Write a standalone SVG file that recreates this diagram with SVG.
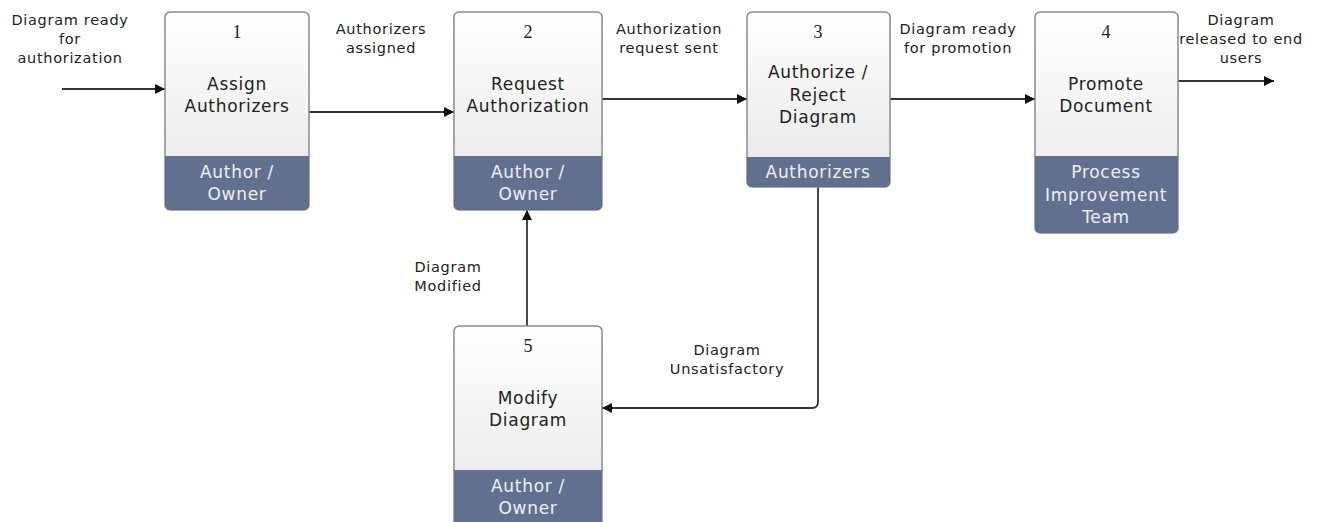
<svg xmlns="http://www.w3.org/2000/svg" width="1320" height="522" viewBox="0 0 1320 522">
<defs>
<linearGradient id="g" x1="0" y1="0" x2="0" y2="1">
<stop offset="0" stop-color="#ffffff"/>
<stop offset="1" stop-color="#e6e6e6"/>
</linearGradient>
<marker id="arr" viewBox="0 0 10 10" refX="10" refY="5" markerWidth="10" markerHeight="10" markerUnits="userSpaceOnUse" orient="auto">
<path d="M0,0 L10,5 L0,10 z" fill="#111"/>
</marker>
<clipPath id="c1"><rect x="165" y="12" width="144" height="198" rx="5"/></clipPath>
<clipPath id="c2"><rect x="454" y="12" width="148" height="198" rx="5"/></clipPath>
<clipPath id="c3"><rect x="747" y="12" width="143" height="175" rx="5"/></clipPath>
<clipPath id="c4"><rect x="1035" y="12" width="143" height="221" rx="5"/></clipPath>
<clipPath id="c5"><rect x="454" y="326" width="148" height="205" rx="5"/></clipPath>
</defs>
<style>
.box{fill:url(#g);stroke:#8a8a8a;stroke-width:1.5}
.band{fill:#62708f}
.num{font-family:"Liberation Serif",serif;font-size:18px;fill:#222;text-anchor:middle}
.t{font-family:"DejaVu Sans",Verdana,sans-serif;font-size:17px;letter-spacing:0.7px;fill:#222;text-anchor:middle}
.b{font-family:"DejaVu Sans",Verdana,sans-serif;font-size:17px;letter-spacing:0.7px;fill:#eef0f5;text-anchor:middle}
.e{font-family:"DejaVu Sans",Verdana,sans-serif;font-size:14.5px;letter-spacing:0.7px;fill:#222;text-anchor:middle}
.c{fill:none;stroke:#333;stroke-width:1.8}
</style>
<g id="connectors">
<path class="c" d="M62,89 H165" marker-end="url(#arr)"/>
<path class="c" d="M309,112 H454" marker-end="url(#arr)"/>
<path class="c" d="M602,99 H747" marker-end="url(#arr)"/>
<path class="c" d="M890,99 H1035" marker-end="url(#arr)"/>
<path class="c" d="M1178,81 H1274" marker-end="url(#arr)"/>
<path class="c" d="M818,187 V402 Q818,408 812,408 H602" marker-end="url(#arr)"/>
<path class="c" d="M527,326 V210" marker-end="url(#arr)"/>
<text class="e" x="70" y="25">Diagram ready</text>
<text class="e" x="70" y="44">for</text>
<text class="e" x="70" y="63">authorization</text>
<text class="e" x="381" y="34">Authorizers</text>
<text class="e" x="381" y="53">assigned</text>
<text class="e" x="669" y="34">Authorization</text>
<text class="e" x="669" y="53">request sent</text>
<text class="e" x="958" y="34">Diagram ready</text>
<text class="e" x="958" y="53">for promotion</text>
<text class="e" x="1241" y="25">Diagram</text>
<text class="e" x="1241" y="44">released to end</text>
<text class="e" x="1241" y="63">users</text>
<text class="e" x="448" y="272">Diagram</text>
<text class="e" x="448" y="291">Modified</text>
<text class="e" x="727" y="355">Diagram</text>
<text class="e" x="727" y="374">Unsatisfactory</text>
</g>
<g id="node1">
<rect class="box" x="165" y="12" width="144" height="198" rx="5"/>
<rect class="band" x="165" y="156" width="144" height="54" clip-path="url(#c1)"/>
<text class="num" x="237" y="38">1</text>
<text class="t" x="237" y="90">Assign</text>
<text class="t" x="237" y="112">Authorizers</text>
<text class="b" x="237" y="178">Author /</text>
<text class="b" x="237" y="200">Owner</text>
</g>
<g id="node2">
<rect class="box" x="454" y="12" width="148" height="198" rx="5"/>
<rect class="band" x="454" y="156" width="148" height="54" clip-path="url(#c2)"/>
<text class="num" x="528" y="38">2</text>
<text class="t" x="528" y="90">Request</text>
<text class="t" x="528" y="112">Authorization</text>
<text class="b" x="528" y="178">Author /</text>
<text class="b" x="528" y="200">Owner</text>
</g>
<g id="node3">
<rect class="box" x="747" y="12" width="143" height="175" rx="5"/>
<rect class="band" x="747" y="157" width="143" height="30" clip-path="url(#c3)"/>
<text class="num" x="818" y="38">3</text>
<text class="t" x="818" y="78">Authorize /</text>
<text class="t" x="818" y="101">Reject</text>
<text class="t" x="818" y="123">Diagram</text>
<text class="b" x="818" y="178">Authorizers</text>
</g>
<g id="node4">
<rect class="box" x="1035" y="12" width="143" height="221" rx="5"/>
<rect class="band" x="1035" y="156" width="143" height="77" clip-path="url(#c4)"/>
<text class="num" x="1106" y="38">4</text>
<text class="t" x="1106" y="90">Promote</text>
<text class="t" x="1106" y="112">Document</text>
<text class="b" x="1106" y="178">Process</text>
<text class="b" x="1106" y="201">Improvement</text>
<text class="b" x="1106" y="223">Team</text>
</g>
<g id="node5">
<rect class="box" x="454" y="326" width="148" height="205" rx="5"/>
<rect class="band" x="454" y="470" width="148" height="60" clip-path="url(#c5)"/>
<text class="num" x="528" y="352">5</text>
<text class="t" x="528" y="404">Modify</text>
<text class="t" x="528" y="426">Diagram</text>
<text class="b" x="528" y="492">Author /</text>
<text class="b" x="528" y="514">Owner</text>
</g>
</svg>
